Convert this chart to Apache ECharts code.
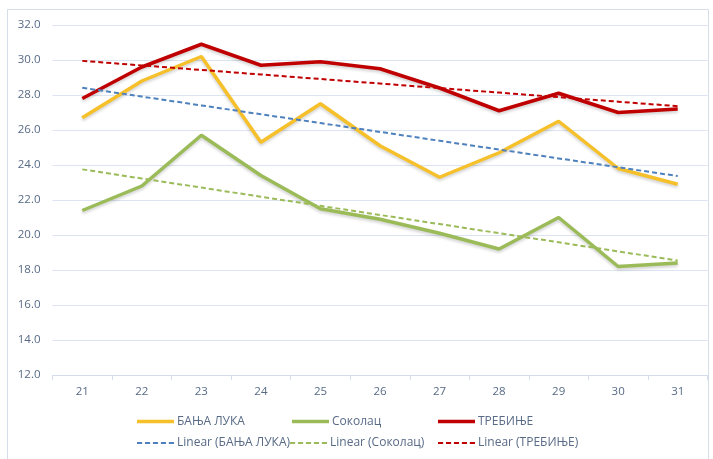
<!DOCTYPE html>
<html><head><meta charset="utf-8">
<script src="https://cdn.jsdelivr.net/npm/echarts@6/dist/echarts.min.js"></script>
<style>html,body{margin:0;padding:0;background:#fff}#c{width:713px;height:459px}</style>
</head><body><div id="c"></div>
<script>
const categories = ['21','22','23','24','25','26','27','28','29','30','31'];
const seriesNames = ['БАЊА ЛУКА','Соколац','ТРЕБИЊЕ'];
const banjaLuka = [26.7,28.8,30.2,25.3,27.5,25.1,23.3,24.7,26.5,23.8,22.9];
const sokolac   = [21.4,22.8,25.7,23.4,21.5,20.9,20.1,19.2,21.0,18.2,18.4];
const trebinje  = [27.8,29.6,30.9,29.7,29.9,29.5,28.4,27.1,28.1,27.0,27.2];
const yMin = 12, yMax = 32, yStep = 2;

function linearFit(vals){
  const n = vals.length;
  let sx=0, sy=0, sxx=0, sxy=0;
  vals.forEach((v,i)=>{const x=i+1; sx+=x; sy+=v; sxx+=x*x; sxy+=x*v;});
  const b = (n*sxy - sx*sy)/(n*sxx - sx*sx);
  const a = (sy - b*sx)/n;
  return vals.map((v,i)=>+(a + b*(i+1)).toFixed(4));
}

const colors = ['#F6C02A','#9BBB59','#C00000'];
const trendColors = ['#4F81BD','#9BBB59','#C00000'];
const dataSets = [banjaLuka, sokolac, trebinje];
const FONT = '"Open Sans", "Noto Sans", sans-serif';
const labelColor = '#586a86';

const solidIcon = 'path://M0,0h36v3.5h-36z';
const dashIcon = 'path://M0,0h5v2h-5z M7.75,0h5v2h-5z M15.5,0h5v2h-5z M23.25,0h5v2h-5z M31,0h5v2h-5z';

const series = [];
dataSets.forEach((d,i)=>{
  series.push({
    name: seriesNames[i], type:'line', data:d, symbol:'none', showSymbol:false, z:3,
    lineStyle:{color:colors[i], width:3.5, shadowColor:'rgba(0,0,0,0.18)', shadowBlur:3, shadowOffsetY:2},
    itemStyle:{color:colors[i]}
  });
});
dataSets.forEach((d,i)=>{
  series.push({
    name: 'Linear (' + seriesNames[i] + ')', type:'line', data:linearFit(d), symbol:'none', showSymbol:false, z:4,
    lineStyle:{color:trendColors[i], width:2, type:[5,3]},
    itemStyle:{color:trendColors[i]}
  });
});

const legendPos = [
  [137,414.5],[292,414.5],[438,414.5],
  [137,436],[290,436],[438,436]
];
const legends = series.map((s,i)=>({
  data:[{name:s.name, icon: i<3 ? solidIcon : dashIcon, itemStyle:{color:(i<3?colors:trendColors)[i%3]}}],
  left:legendPos[i][0], top:legendPos[i][1], padding:0,
  itemWidth:37, itemHeight:14, itemGap:0,
  textStyle:{fontFamily:FONT, fontSize:12, color:labelColor, lineHeight:14, padding:[0,0,0,-2]}
}));

const chart = echarts.init(document.getElementById('c'), null, {renderer:'canvas'});
chart.setOption({
  animation:false,
  backgroundColor:'#ffffff',
  graphic:[{type:'rect', shape:{x:7.5,y:9.5,width:701,height:460}, style:{fill:'none', stroke:'#d5dde8', lineWidth:1}, z:-1}],
  grid:{left:52.5, right:5.5, top:25, bottom:84},
  legend:legends,
  xAxis:{
    type:'category', data:categories, boundaryGap:true,
    axisLine:{lineStyle:{color:'#d3dceb', width:1}},
    axisTick:{show:true, length:5, lineStyle:{color:'#d3dceb'}},
    axisLabel:{color:labelColor, fontFamily:FONT, fontSize:11.5, margin:11}
  },
  yAxis:{
    type:'value', min:yMin, max:yMax, interval:yStep,
    axisLine:{show:false}, axisTick:{show:false},
    splitLine:{lineStyle:{color:'#dbe4f0', width:1}},
    axisLabel:{color:labelColor, fontFamily:FONT, fontSize:11.5, margin:12, formatter:v=>v.toFixed(1)}
  },
  series:series
});
</script></body></html>
